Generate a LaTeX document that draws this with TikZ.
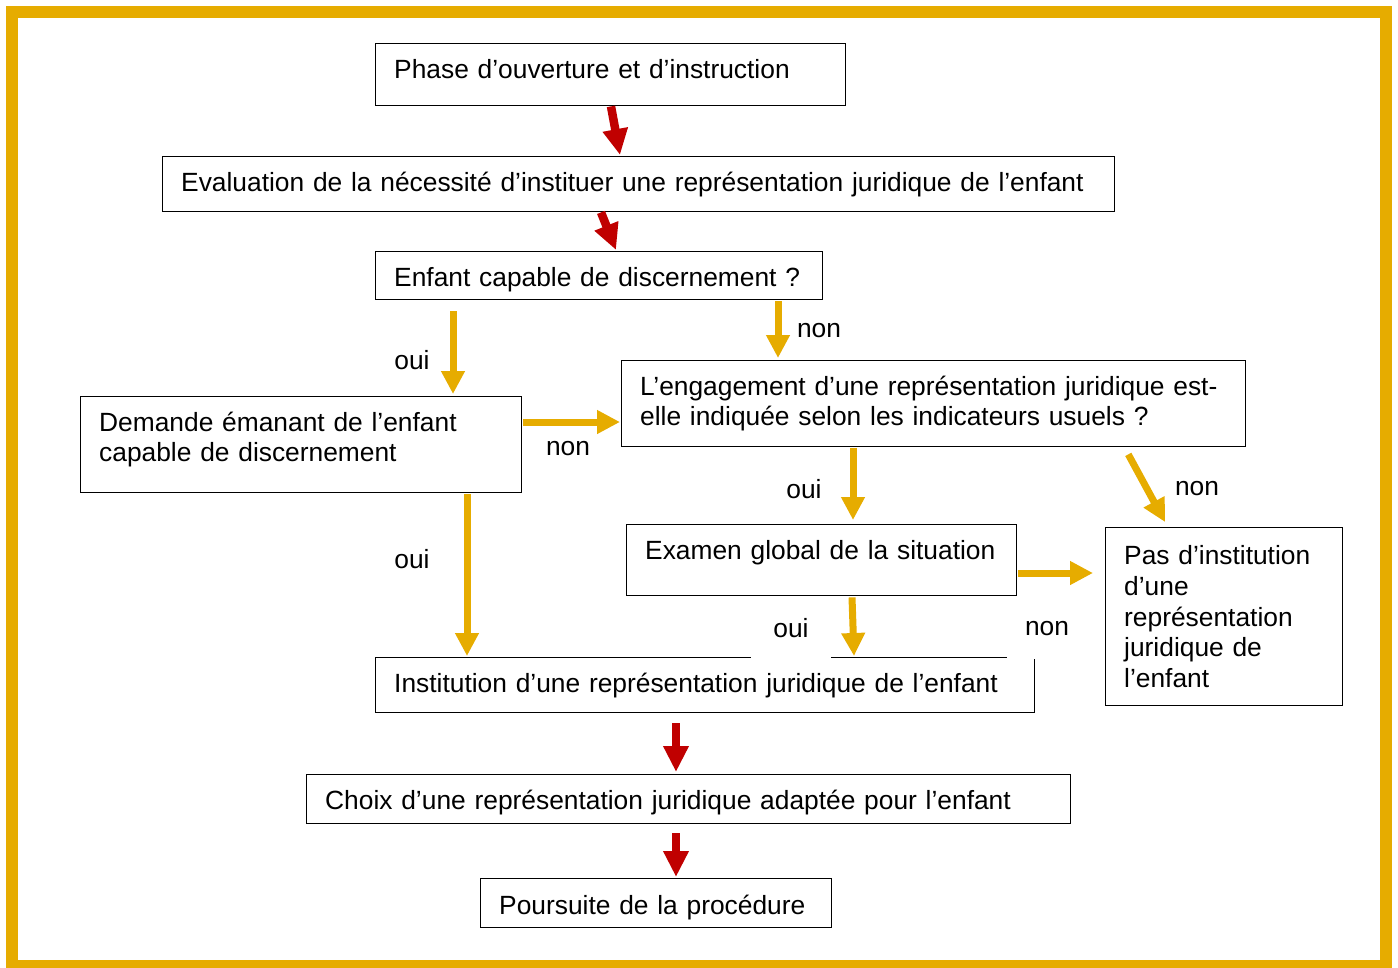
\documentclass[tikz,border=0pt]{standalone}
\usepackage{fontspec}
\setmainfont{Liberation Sans}
\usetikzlibrary{arrows.meta, positioning}
\definecolor{gold}{RGB}{230,172,0}
\definecolor{darkred}{RGB}{192,0,0}

\begin{document}
\begin{tikzpicture}[
x=0.02cm, y=-0.02cm,
every node/.style={font=\fontsize{15}{17.1}\selectfont},
box/.style={draw, line width=0.8pt, anchor=north west, align=left, inner xsep=0.37cm, inner ysep=0.1cm},
lab/.style={fill=white, inner sep=1pt},
redarrow/.style={darkred, line width=0.17cm, -{Triangle[length=0.52cm, width=0.48cm]}},
goldarrow/.style={gold, line width=0.14cm, -{Triangle[length=0.46cm, width=0.45cm]}},
]
\useasboundingbox (0,0) rectangle (1398,967);
%% frame
\draw[gold, line width=0.24cm] (12,12) rectangle (1386,966);

%% boxes
\node[box, text width=8.66cm, minimum height=1.24cm, text depth=0.23cm] (phase) at (375,43) {Phase d’ouverture et d’instruction};
\node[box, text width=18.3cm, minimum height=1.1cm] (eval) at (162,156) {Evaluation de la nécessité d’instituer une représentation juridique de l’enfant};
\node[box, text width=8.2cm, minimum height=0.96cm, text height=0.55cm] (enfant) at (375,251) {Enfant capable de discernement ?};
\node[box, text width=8.08cm, minimum height=1.92cm, text depth=0.91cm] (demande) at (80,396) {Demande émanant de l’enfant\\capable de discernement};
\node[box, text width=11.74cm, minimum height=1.72cm] (engage) at (621,360) {L’engagement d’une représentation juridique est-\\elle indiquée selon les indicateurs usuels ?};
\node[box, text width=7.06cm, minimum height=1.42cm, text depth=0.41cm] (examen) at (626,524) {Examen global de la situation};
\node[box, text width=4cm, minimum height=3.56cm, font=\fontsize{15}{17.5}\selectfont] (pas) at (1105,527) {Pas d’institution\\d’une\\représentation\\juridique de\\l’enfant};
\node[box, text width=12.44cm, minimum height=1.1cm] (inst) at (375,657) {Institution d’une représentation juridique de l’enfant};
\node[box, text width=14.54cm, minimum height=0.98cm, text height=0.51cm] (choix) at (306,774) {Choix d’une représentation juridique adaptée pour l’enfant};
\node[box, text width=6.28cm, minimum height=0.98cm, text height=0.55cm] (suite) at (480,878) {Poursuite de la procédure};

%% labels
\node[lab] (oui1) at (412,360) {oui};
\node[lab] (non1) at (819,331) {non};
\node[lab] (non2) at (568,449) {non};
\node[lab] (oui2) at (412,559) {oui};
\node[lab] (oui3) at (804,489) {oui};
\node[lab] (non3) at (1197,489) {non};
\node[lab, minimum width=1.6cm, minimum height=1.2cm] (oui4) at (791,628) {oui};
\node[lab, minimum width=1.6cm, minimum height=1.2cm] (non4) at (1047,629) {non};

%% arrows
% red
\draw[redarrow] ([shift={(236,0)}]phase.south west) -- ([shift={(458,-1)}]eval.north west);
\draw[redarrow] ([shift={(439,0)}]eval.south west) -- ([shift={(241,-1)}]enfant.north west);
\draw[redarrow] ([shift={(301,10)}]inst.south west) -- ([shift={(370,-2)}]choix.north west);
\draw[redarrow] ([shift={(370,9)}]choix.south west) -- ([shift={(196,-1)}]suite.north west);
% gold
\draw[goldarrow] ([shift={(78,11)}]enfant.south west) -- ([shift={(373,-2)}]demande.north west);
\draw[goldarrow] ([shift={(403,1)}]enfant.south west) -- ([shift={(157,-2)}]engage.north west);
\draw[goldarrow] ([shift={(1,26)}]demande.north east) -- ([shift={(-1,62)}]engage.north west);
\draw[goldarrow] ([shift={(387,1)}]demande.south west) -- ([shift={(92,-1)}]inst.north west);
\draw[goldarrow] ([shift={(232,1)}]engage.south west) -- ([shift={(227,-4)}]examen.north west);
\draw[goldarrow] ([shift={(-118,7)}]engage.south east) -- ([shift={(60,-5)}]pas.north west);
\draw[goldarrow] ([shift={(1,49)}]examen.north east) -- ([shift={(-12,46)}]pas.north west);
\draw[goldarrow] ([shift={(226,1)}]examen.south west) -- ([shift={(479,-1)}]inst.north west);
\end{tikzpicture}
\end{document}
